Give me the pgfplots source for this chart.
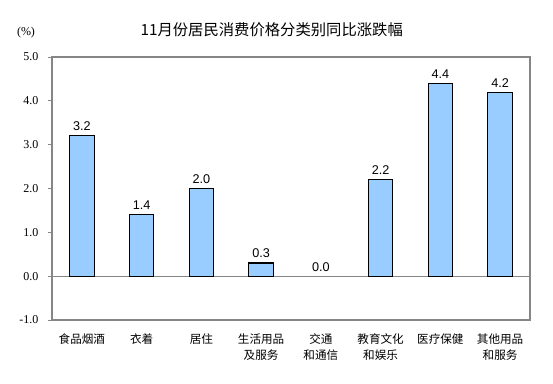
\documentclass[border=0pt]{standalone}
\usepackage{pgfplots}
\pgfplotsset{compat=1.18}
\usepackage{fontspec}
\setmainfont{Liberation Serif}
\newfontfamily\sansf{Liberation Sans}
\newfontfamily\cjk{Noto Sans CJK SC}
\definecolor{barblue}{RGB}{153,204,255}
\definecolor{axgray}{RGB}{134,134,134}
\begin{document}
\begin{tikzpicture}
\path[use as bounding box] (0pt,0pt) rectangle (414.75pt,288pt);
\begin{axis}[
  at={(39pt,48pt)}, anchor=south west,
  scale only axis, width=358.5pt, height=197.25pt,
  xmin=0, xmax=8, ymin=-1, ymax=5,
  ytick={-1,0,1,2,3,4,5},
  yticklabel style={font=\fontsize{9}{11}\selectfont, xshift=-4pt,
    /pgf/number format/fixed, /pgf/number format/fixed zerofill,
    /pgf/number format/precision=1, /pgf/number format/assume math mode=true},
  ytick pos=left, tick align=outside,
  major tick length=2.7pt,
  tick style={axgray, line width=0.6pt},
  axis line style={axgray, line width=0.8pt},
  xtick={0.5,1.5,2.5,3.5,4.5,5.5,6.5,7.5},
  xticklabels={食品烟酒, 衣着, 居住, {生活用品\\及服务}, {交通\\和通信}, {教育文化\\和娱乐}, 医疗保健, {其他用品\\和服务}},
  xticklabel style={font=\cjk\fontsize{8.7}{12}\selectfont, align=center, anchor=north, yshift=-4pt},
  major x tick style={draw=none},
  extra y ticks={0}, extra y tick labels={},
  extra y tick style={grid=major, major grid style={axgray, line width=0.8pt}},
  ybar, bar width=18.4pt, bar shift=0pt,
  nodes near coords,
  nodes near coords style={font=\sansf\fontsize{9.5}{11}\selectfont,
    /pgf/number format/fixed, /pgf/number format/fixed zerofill,
    /pgf/number format/precision=1, /pgf/number format/assume math mode=true},
]
\addplot[fill=barblue, draw=black, line width=0.8pt] coordinates {
  (0.5,3.2) (1.5,1.4) (2.5,2.0) (3.5,0.3) (5.5,2.2) (6.5,4.4) (7.5,4.2)
};
\addplot[fill=none, draw=none] coordinates {(4.5,0.0)};
\end{axis}
\node[font=\cjk\fontsize{11.5}{13}\selectfont] at (203.8pt,265.5pt) {11月份居民消费价格分类别同比涨跌幅};
\node[font=\fontsize{9}{11}\selectfont] at (19.5pt,263.5pt) {(\%)};
\end{tikzpicture}
\end{document}
